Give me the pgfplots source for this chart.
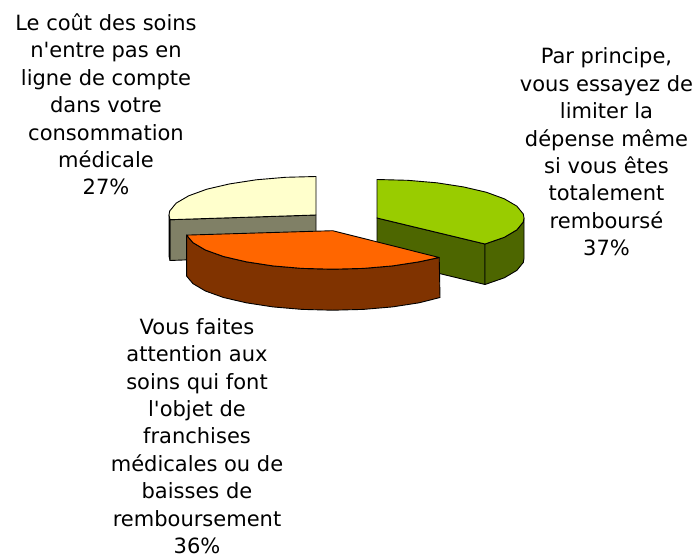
\documentclass[border=0pt]{standalone}
\usepackage{fontspec}
\newfontfamily\lab{DejaVu Sans}
\usepackage{pgfplots}
\pgfplotsset{compat=1.18}
\definecolor{gtop}{HTML}{99CC00}\definecolor{gside}{HTML}{4D6600}
\definecolor{otop}{HTML}{FF6600}\definecolor{oside}{HTML}{803300}
\definecolor{ctop}{HTML}{FFFFCC}\definecolor{cside}{HTML}{808066}
\begin{document}
\begin{tikzpicture}
\path[use as bounding box] (0,0) rectangle (698pt,557pt);
\begin{axis}[at={(0,0)},anchor=south west,scale only axis,width=698pt,height=557pt,xmin=0,xmax=698,ymin=0,ymax=557,y dir=reverse,hide axis,clip=false,
  every axis plot/.append style={draw=black,line width=0.9pt,line join=round}]
% cream slice: side faces, then top
\addplot[fill=cside] coordinates {(316,215)(170,219.7)(170,260.5)(316,255)} -- cycle;
\addplot[fill=cside] coordinates {(169,215)(170,219.7)(170,260.5)(169,256)} -- cycle;
\addplot[fill=ctop] coordinates {(316,215)(316,176.5)(285.4,177.3)(256.2,179.8)(229.6,183.9)(206.8,189.2)(188.7,195.8)(176.2,203.1)(169.7,211)(169,215)(170,219.7)} -- cycle;
% green slice
\addplot[fill=gside] coordinates {(377,218)(485,244)(485,284.5)(377,258.5)} -- cycle;
\addplot[fill=gside] coordinates {(524,218)(523.3,222)(516.8,229.9)(504.3,237.3)(485,244)(485,284.5)(504.3,277.8)(516.8,270.4)(523.3,262.5)(524,258.5)} -- cycle;
\addplot[fill=gtop] coordinates {(377,218)(377,179.5)(407.6,180.3)(436.8,182.8)(463.4,186.9)(486.2,192.2)(504.3,198.8)(516.8,206.1)(523.3,214)(524,218)(523.3,222)(516.8,229.9)(504.3,237.3)(485,244)} -- cycle;
% orange slice
\addplot[fill=oside] coordinates {(439.2,257.5)(419.1,261.8)(392.5,265.9)(363.3,268.4)(332.7,269.2)(302.1,268.4)(272.9,265.9)(246.3,261.8)(223.5,256.5)(205.4,250)(192.9,242.6)(186.6,235.1)(186.6,276.1)(192.9,283.6)(205.4,291)(223.5,297.5)(246.3,302.8)(272.9,306.9)(302.1,309.4)(332.7,310.2)(363.3,309.4)(392.5,306.9)(419.1,302.8)(440,297.5)} -- cycle;
\addplot[fill=otop] coordinates {(332.7,230.7)(186.6,235.1)(192.9,242.6)(205.4,250)(223.5,256.5)(246.3,261.8)(272.9,265.9)(302.1,268.4)(332.7,269.2)(363.3,268.4)(392.5,265.9)(419.1,261.8)(439.2,257.5)} -- cycle;
% labels
\node[align=center,anchor=center,inner sep=0pt,font=\lab\fontsize{21}{27.4}\selectfont] at (axis cs:606.5,152) {Par principe,\\vous essayez de\\limiter la\\dépense même\\si vous êtes\\totalement\\remboursé\\37\%};
\node[align=center,anchor=center,inner sep=0pt,font=\lab\fontsize{21}{27.4}\selectfont] at (axis cs:106,104.5) {Le coût des soins\\n'entre pas en\\ligne de compte\\dans votre\\consommation\\médicale\\27\%};
\node[align=center,anchor=center,inner sep=0pt,font=\lab\fontsize{21}{27.4}\selectfont] at (axis cs:197,436) {Vous faites\\attention aux\\soins qui font\\l'objet de\\franchises\\médicales ou de\\baisses de\\remboursement\\36\%};
\end{axis}
\end{tikzpicture}
\end{document}
